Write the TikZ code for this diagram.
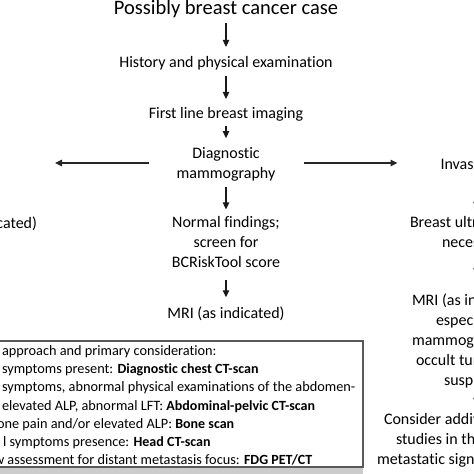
\documentclass[tikz,border=0pt]{standalone}
\usepackage{fontspec}
\setmainfont{Carlito}[Ligatures=NoCommon]
\usetikzlibrary{arrows.meta}
\newcommand\bb[1]{{\fontsize{14}{18}\selectfont\bfseries #1}}
\begin{document}
\begin{tikzpicture}[x=1pt,y=-1pt,
  txt/.style={inner sep=0pt, outer sep=0pt, font=\fontsize{16}{20}\selectfont, align=center, text=black},
  rtxt/.style={txt, anchor=base west},
  boxtxt/.style={inner sep=0pt, outer sep=0pt, font=\fontsize{14.3}{18.2}\selectfont, align=left, anchor=north west, text=black},
  arr/.style={-{Triangle[length=7pt,width=6.5pt]}, line width=1.1pt, black!90},
  harr/.style={-{Triangle[length=7pt,width=6.5pt]}, line width=1.4pt, black!85}]
\useasboundingbox (0,0) rectangle (474,474);
\clip (0,0) rectangle (474,474);

% central column
\node[txt, anchor=base, font=\fontsize{20.5}{24}\selectfont] (title) at (226,14) {Possibly breast cancer case};
\node[txt, anchor=base] (hist) at (226,67) {History and physical examination};
\node[txt, anchor=base] (first) at (226,118) {First line breast imaging};
\node[txt] (diag) at (226,164) {Diagnostic\\mammography};
\node[txt] (normal) at (226,242) {Normal findings;\\screen for\\BCRiskTool score};
\node[txt, anchor=base] (mri) at (226,318) {MRI (as indicated)};

\draw[arr, shorten <=6pt, shorten >=9pt] (title) -- (hist);
\draw[arr, shorten <=6pt, shorten >=8pt] (hist) -- (first);
\draw[arr, shorten <=5pt, shorten >=9pt] (first) -- (diag);
\draw[arr, shorten <=6pt, shorten >=7pt] (diag) -- (normal);
\draw[arr, shorten <=12pt, shorten >=9pt] (normal) -- (mri);

% left column
\coordinate (lefttip) at (55,163);
\node[txt, anchor=base east] (leftmri) at (37,228) {(as indicated)};
\draw[harr, shorten <=28pt] (diag.west |- lefttip) -- (lefttip);

% right column
\coordinate (rc) at (476.5,0);
\node[rtxt] (invas) at (440.5,169) {Invasive};
\node[rtxt] (bus1) at (410,227) {Breast ultrasound};
\node[rtxt] (bus2) at (442,247) {necessary};
\node[rtxt] (rmri1) at (412,305) {MRI (as indicated)};
\node[rtxt] (rmri2) at (436,325) {especially};
\node[rtxt] (rmri3) at (412,345) {mammographically};
\node[rtxt] (rmri4) at (416,365) {occult tumor};
\node[rtxt] (rmri5) at (444,385) {suspicion};
\node[rtxt] (cons1) at (384,424) {Consider additional};
\node[rtxt] (cons2) at (396,444) {studies in the};
\node[rtxt] (cons3) at (377,464) {metastatic signs};

\draw[harr, shorten <=29pt, shorten >=43pt] (diag.east |- lefttip) -- (invas.west |- lefttip);
\draw[arr, shorten <=11pt, shorten >=7pt] (invas.south -| rc) -- (bus1.north -| rc);
\draw[arr, shorten <=10pt, shorten >=18pt] (bus2.south -| rc) -- (rmri1.north -| rc);
\draw[arr, shorten <=6pt, shorten >=8pt] (rmri5.south -| rc) -- (cons1.north -| rc);

% bottom box
\fill[black!20] (-5,467) rectangle (363,480);
\draw[black!65, line width=1.3pt] (-5,341) rectangle (363,467);
\node[boxtxt] (boxtext) at (2,345.5) {approach and primary consideration:\\
symptoms present: \bb{Diagnostic chest CT-scan}\\
symptoms, abnormal physical examinations of the abdomen-\\
elevated ALP, abnormal LFT: \bb{Abdominal-pelvic CT-scan}\\
\hspace*{-5pt}one pain and/or elevated ALP: \bb{Bone scan}\\
\hspace*{1pt}l symptoms presence: \bb{Head CT-scan}\\
\hspace*{-8pt}w assessment for distant metastasis focus: \bb{FDG PET/CT}};
\end{tikzpicture}
\end{document}
